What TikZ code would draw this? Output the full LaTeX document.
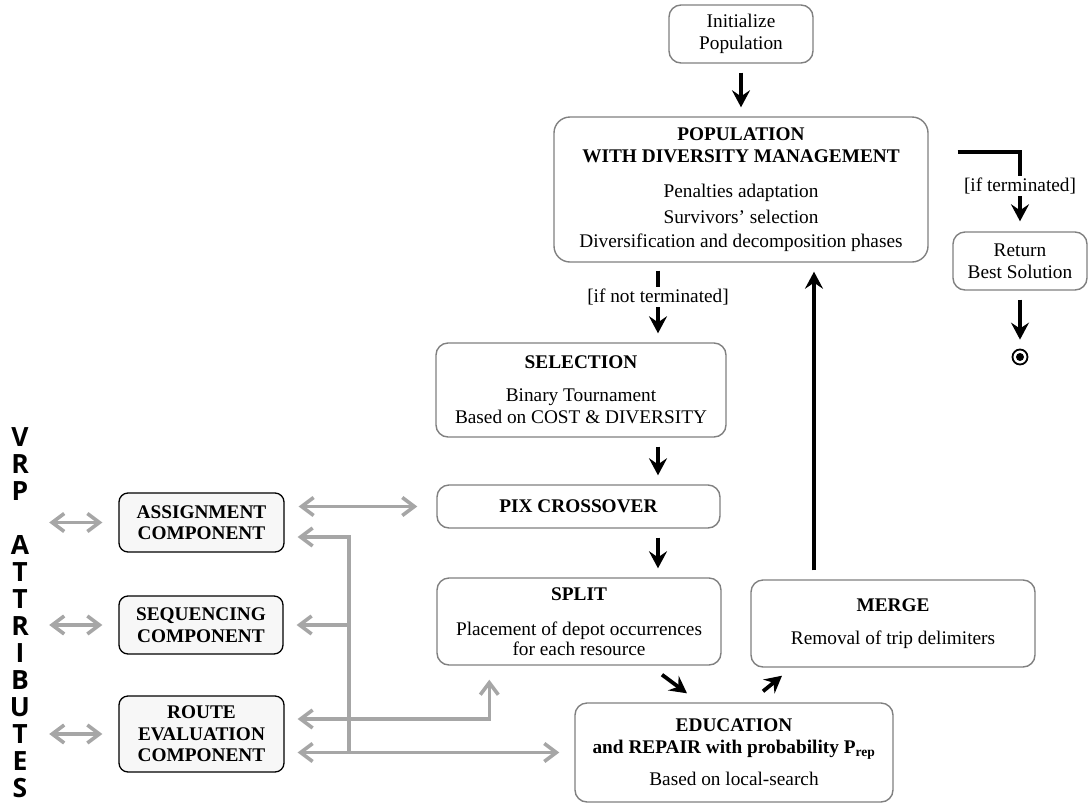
\documentclass[tikz,border=0pt]{standalone}
\usepackage{fontspec}
\setmainfont{Liberation Serif}
\newfontfamily\attrfont{Open Sans}
\usetikzlibrary{arrows.meta}

\definecolor{boxline}{HTML}{808080}
\definecolor{linkgray}{HTML}{A6A6A6}
\definecolor{compfill}{HTML}{F7F7F7}

\begin{document}
\begin{tikzpicture}[x=1pt, y=-1pt, font=\fontsize{19.3}{22}\selectfont,
		>={Straight Barb[length=12pt,width=18pt]},
		box/.style={draw=boxline, line width=1.4pt, rounded corners=12pt, align=center, inner sep=0pt},
		comp/.style={draw=black, fill=compfill, line width=1.3pt, rounded corners=9pt, align=center, inner sep=0pt,
			font=\fontsize{19.3}{21.5}\selectfont\bfseries},
		flow/.style={-{Stealth[length=17pt,width=18pt,inset=6pt]}, line width=3.8pt, shorten <=9pt, shorten >=9pt},
		link/.style={draw=linkgray, line width=3.6pt},
		lbl/.style={fill=white, inner sep=2pt}]
		\useasboundingbox (0,0) rectangle (1088,804);

		\node[box, minimum width=144pt, minimum height=58pt] (init) at (741, 34) {Initialize\\Population};
		\node[box, rounded corners=16pt, minimum width=374pt, minimum height=145pt] (pop) at (741, 189.5) {\textbf{POPULATION}\\\textbf{WITH DIVERSITY MANAGEMENT}\\[13pt]Penalties adaptation\\[4pt]Survivors’ selection\\[2pt]Diversification and decomposition phases};
		\node[box, minimum width=134pt, minimum height=58pt] (ret) at (1020, 261) {Return\\Best Solution};
		\node[circle, draw, line width=1.8pt, minimum size=15pt, inner sep=0pt] (stop) at (1020, 357) {};
		\fill (stop.center) circle[radius=4pt];

		\node[box, minimum width=290pt, minimum height=94pt] (sel) at (581, 390) {\textbf{SELECTION}\\[11pt]Binary Tournament\\Based on COST \& DIVERSITY};
		\node[box, minimum width=283pt, minimum height=43pt] (pix) at (578.5, 506.5) {\textbf{PIX CROSSOVER}};
		\node[box, minimum width=284pt, minimum height=87pt] (split) at (579, 621.5) {\textbf{SPLIT}\\[13pt]Placement of depot occurrences\\[-2pt]for each resource};
		\node[box, minimum width=284pt, minimum height=87pt] (merge) at (893, 623.5) {\textbf{MERGE}\\[11pt]Removal of trip delimiters};
		\node[box, minimum width=318pt, minimum height=99pt] (edu) at (734, 752.5) {\textbf{EDUCATION}\\\textbf{and REPAIR with probability P\textsubscript{rep}}\\[10pt]Based on local-search};

		\node[comp, minimum width=165pt, minimum height=59pt] (assign) at (201.5, 522.5) {ASSIGNMENT\\COMPONENT};
		\node[comp, minimum width=164pt, minimum height=58pt] (seq) at (201, 625) {SEQUENCING\\COMPONENT};
		\node[comp, minimum width=165pt, minimum height=76pt] (route) at (201.5, 734) {ROUTE\\EVALUATION\\COMPONENT};

		\node[anchor=north, inner sep=0pt, align=center, font=\attrfont\bfseries\fontsize{26.5}{27}\selectfont] (attrs) at (20, 427) {V\\R\\P\\[27pt]A\\T\\T\\R\\I\\B\\U\\T\\E\\S};

		% main loop
		\coordinate (col) at (658, 0);
		\path (init) edge[flow] (pop);
		\draw[flow, shorten <=8pt] (pop.south -| col) -- node[lbl, pos=0.43] {[if not terminated]} (sel.north -| col);
		\path (sel.south -| col) edge[flow] (pix.north -| col);
		\path (pix.south -| col) edge[flow] (split.north -| col);
		\draw[flow, shorten <=0pt, shorten >=0pt] ([xshift=83pt, yshift=-9pt]split.south) -- ([xshift=-47pt, yshift=9pt]edu.north);
		\draw[flow, shorten <=0pt, shorten >=0pt] ([xshift=29pt, yshift=11pt]edu.north) -- ([xshift=-111pt, yshift=-8pt]merge.south);
		\path ([xshift=-79pt]merge.north) edge[flow] ([xshift=-79pt]merge.north |- pop.south);
		\draw[flow, shorten <=0pt, shorten >=10pt] ([xshift=29pt, yshift=-36pt]pop.north east) -| node[lbl, pos=0.715] {[if terminated]} (ret.north);
		\path (ret) edge[flow] (stop);

		% components
		\foreach \c in {assign, seq, route}
			\draw[link, <->, shorten <=19pt, shorten >=16pt] (attrs.east |- \c.west) -- (\c.west);
		\draw[link, <->, shorten <=14pt, shorten >=19pt] (assign.east |- pix.west) -- (pix.west);
		\coordinate (bus) at (349, 537);
		\draw[link, ->, shorten >=13pt] (bus |- edu.west) -- (bus) -- (bus -| assign.east);
		\draw[link, ->, shorten >=13pt] (bus |- seq.east) -- (seq.east);
		\draw[link, <->, shorten <=13pt, shorten >=14pt] ([yshift=15pt]route.east) -| ([xshift=53pt]split.south west);
		\draw[link, <->, shorten <=13pt, shorten >=15pt] (route.east |- edu.west) -- (edu.west);
	\end{tikzpicture}
\end{document}
